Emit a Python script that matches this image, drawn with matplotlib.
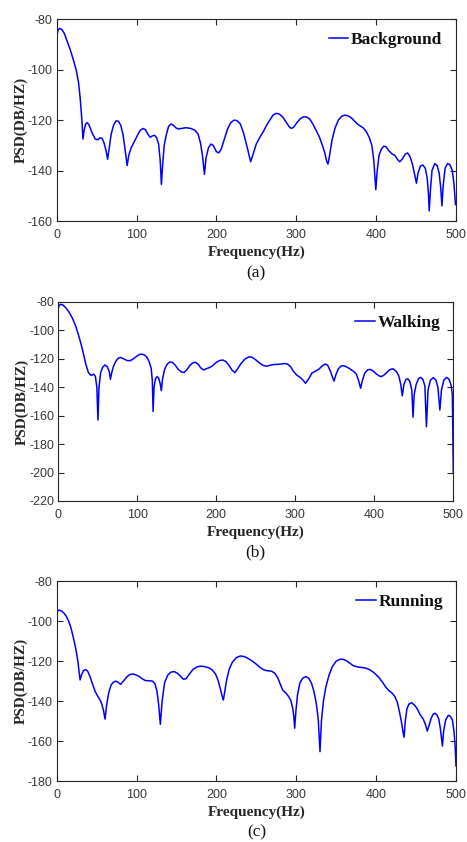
import matplotlib
matplotlib.use("Agg")
import matplotlib.pyplot as plt

plt.rcParams["axes.unicode_minus"] = False

# ---------------- data ----------------
bg_f = [0, 1, 3, 6, 9, 12.5, 16, 20, 24, 27, 29, 31, 32.6, 34, 36, 38, 40, 44, 48, 51, 54, 56.5, 59, 61.5,
        63.5, 65.5, 68, 71, 74, 77, 80, 83, 86, 88, 90, 93, 97, 101, 104.5, 108, 111, 114, 117, 120, 122.5,
        125, 127.5, 129.5, 131, 132.5, 134.5, 137, 140, 143, 146, 149, 152, 156, 162, 168, 173, 177, 180,
        182.5, 185, 187, 190, 193, 196, 200, 203, 206, 210, 214, 218, 222, 226, 230, 234, 238, 241, 243,
        246, 250, 255, 259, 263, 267, 271, 275, 279, 283, 287, 291, 294, 297, 301, 305, 309, 313, 317, 321,
        325, 329, 333, 336, 338.5, 340, 342, 345, 349, 353, 357, 361, 365, 369, 373, 378, 384, 388, 392,
        395, 397.5, 400, 401.5, 404, 407, 410, 413, 416, 420, 424, 427, 430, 433, 437, 440, 443, 446, 449,
        451, 453, 456, 459, 462, 464.5, 466, 467, 468.5, 470.5, 474, 477, 479.5, 481.5, 483, 484.5, 487,
        490, 493, 496, 498, 500]
bg_v = [-86.5, -84.5, -83.6, -84.0, -85.5, -88.5, -91.5, -95.5, -100, -105, -111, -119, -127.5, -124,
        -121.5, -121, -121.8, -125, -127.5, -127.8, -127, -127.2, -129, -132, -135.5, -131, -125.5, -122,
        -120.3, -120.4, -122, -126, -133, -138, -134, -131, -128.5, -126, -124, -123.3, -123.8, -125.5,
        -126.8, -126.2, -126, -127, -129.5, -136, -145.5, -138, -130, -126, -122.5, -121.5, -122, -123,
        -123.5, -123.3, -123, -123.3, -124, -125.5, -129, -134, -141.5, -135, -131, -129.5, -130, -132.5,
        -133, -131.5, -127.5, -123.5, -121, -120, -120.2, -121.5, -125, -130, -134, -136.5, -133.5, -129.5,
        -126.5, -124.5, -122, -120, -118, -117.3, -117.6, -118.7, -120.5, -122.5, -123.3, -122.8, -121,
        -119.5, -118.7, -118.7, -119.5, -121.5, -124, -126.5, -130, -133, -136.5, -137.4, -134, -128, -123,
        -120, -118.5, -118, -118.3, -119, -120.3, -121.8, -123, -124.5, -127, -130, -136, -147.6, -141,
        -134, -131.5, -130.3, -130.6, -132, -133.3, -134, -135.5, -136.5, -135.5, -133.5, -133, -134.5,
        -137.5, -142, -145, -141, -138.2, -137.8, -139, -143, -149, -156, -148, -140, -137.2, -138, -141,
        -147, -154, -146, -139, -137.2, -137.7, -140, -145, -153.5]

wk_f = [0, 1, 3, 6, 10, 14, 18, 22, 26, 29.5, 32, 35, 38, 41, 43, 45, 47, 48.8, 50.2, 51.5, 53.5, 56, 59,
        62, 64.5, 66, 67.5, 70, 73, 76, 79, 83, 87, 91, 95, 99, 103, 106, 109, 112, 115, 117.5, 119, 120,
        121.2, 123, 125, 127, 129, 130.4, 132, 134.5, 137.5, 141, 144.5, 148, 152, 156, 159.5, 163, 167,
        171, 174, 177, 180.5, 184, 188, 192, 196, 200, 204, 208, 212, 216, 220, 223.6, 227, 231, 236, 241,
        245, 250, 255, 260, 264, 268, 273, 280, 286, 290, 294, 298, 302, 306, 309, 313, 317, 321, 326, 330,
        334, 338, 341, 344, 346.5, 349, 351.5, 354.5, 358, 361, 365, 369, 373, 377, 380, 382.7, 385, 388,
        391.5, 394.5, 398, 402, 406, 409, 412, 416, 420, 424, 428, 431, 433.5, 435.4, 437.5, 440, 442.5,
        445, 447.5, 449, 450.5, 453, 456, 458.6, 461.5, 464, 466, 468, 471, 474.7, 478, 480.5, 483, 485,
        488, 491.6, 494.5, 497, 498.8, 500]
wk_v = [-84.5, -82.5, -81.6, -82.2, -84.3, -87.5, -91.5, -97, -104, -111, -117, -124, -129.5, -131.5,
        -131.3, -130.8, -132.5, -140, -163, -140, -130, -126, -124.3, -125.5, -129, -134.4, -130, -125,
        -121.5, -119.5, -119, -120, -121.2, -121.3, -120, -118.3, -116.8, -116.7, -117.3, -118.7, -122,
        -126.5, -135, -157, -140, -134, -132.5, -133.5, -137.5, -142.4, -134, -127.5, -124, -122.2, -122.5,
        -124.5, -127.5, -129.3, -129.5, -127.5, -124.3, -122.6, -122.5, -123.8, -126.5, -127.8, -126.8,
        -126, -124.5, -122.5, -121.2, -120.8, -121.8, -124.5, -128, -129.7, -127, -123.5, -120.3, -118.6,
        -118.8, -120.7, -123, -124.8, -125.1, -124.5, -124, -123.8, -123.3, -123.6, -125.5, -129, -131.5,
        -133, -134.5, -137.2, -134, -130, -128.5, -127.2, -125, -123.6, -124.5, -128, -132, -135.6, -131,
        -127, -125, -124.8, -125.7, -127, -128.5, -130.5, -135, -140.7, -135, -130, -127.8, -127.4, -128.3,
        -130.3, -132, -132.5, -131.5, -129.5, -127.5, -127, -129, -132, -138, -146, -138, -134.5, -134,
        -136, -142, -161, -145, -138, -134, -133, -134.5, -139, -167.7, -142, -135, -133.2, -135, -140,
        -156, -142, -135, -133, -134.3, -138, -145, -200.5]

rn_f = [0, 1, 3, 6, 9, 12, 15, 18, 21, 24, 26.5, 28, 29.3, 31, 33.5, 36, 38.5, 41.5, 45, 48, 51, 54, 56.5,
        58.5, 60.5, 62.5, 65, 68, 71, 74, 77, 80, 83.5, 87.5, 91, 95, 99, 103, 107, 111, 116, 120, 123,
        125.5, 127.5, 129.8, 132, 135, 139, 143, 147, 151, 155, 158.5, 162, 166, 171, 176, 181, 186, 191,
        195, 199, 202, 205, 207.5, 208.7, 210.5, 213, 216, 220, 225, 230, 235, 240, 245, 250, 255, 259,
        264, 269, 273, 277, 280, 283, 287, 290, 293, 295.5, 297, 298, 299.3, 301.5, 304.5, 308, 312, 315.5,
        319, 322, 325, 327.5, 329.7, 331.5, 334, 337, 341, 345, 350, 355, 359, 363, 367, 371.5, 377, 383,
        388, 393, 398, 403, 408, 412, 416, 420, 423.5, 426.5, 429, 431.5, 433.5, 435, 436.5, 438.5, 441,
        444.5, 448, 451, 455, 459, 462, 464, 466, 469, 471.5, 473.7, 476, 478.5, 480.5, 482, 483, 484.5,
        487, 490.4, 493, 495.5, 497.5, 499, 500]
rn_v = [-97, -95, -94.4, -94.9, -95.9, -97.5, -100, -103.5, -108.5, -114, -120, -125, -129.4, -127,
        -124.8, -124.2, -124.8, -127.5, -131.5, -135, -137.3, -139.2, -141.5, -144.5, -149, -142, -136,
        -132, -130.5, -130, -130.6, -131.6, -130, -128, -126.8, -126.4, -126.8, -127.6, -128.8, -129.7,
        -129.8, -130, -131.3, -135, -141, -151.6, -140, -131, -127, -125.5, -125.2, -126, -127.5, -129,
        -128.8, -126.5, -124, -122.8, -122.5, -122.8, -123.4, -124.5, -126.5, -129.5, -134, -138, -139.4,
        -135, -129, -124, -120.5, -118.2, -117.4, -117.7, -118.7, -120, -121.5, -123.2, -124.3, -124.8,
        -125, -126, -128.5, -131.5, -134.5, -136, -137.5, -139.5, -143.5, -148, -153.6, -146, -137, -131,
        -128.5, -127.7, -128.5, -131, -135, -141, -149, -165.3, -150, -140, -133, -127, -122.8, -120, -119,
        -119.1, -119.8, -121, -122.3, -122.9, -123.2, -123.6, -124.5, -126, -128, -130.5, -133, -134.7,
        -136, -137.8, -140.5, -145, -150, -155, -158.1, -150, -144, -141.5, -140.8, -142, -143.5, -146.7,
        -149, -152, -155, -152.5, -148.5, -146.5, -146.1, -146.8, -149, -154, -159, -162.5, -155, -149.5,
        -147.1, -147.6, -149.5, -155, -163, -172.5]

series = [
    (bg_f, bg_v, "Background", (-160, -80), [-160, -140, -120, -100, -80], "(a)"),
    (wk_f, wk_v, "Walking", (-220, -80), [-220, -200, -180, -160, -140, -120, -100, -80], "(b)"),
    (rn_f, rn_v, "Running", (-180, -80), [-180, -160, -140, -120, -100, -80], "(c)"),
]
xticks = [0, 100, 200, 300, 400, 500]

# ---------------- layout ----------------
W, H = 467, 842
fig = plt.figure(figsize=(W / 100, H / 100), dpi=100)

# axes boxes in pixels: left, top, right, bottom
boxes = [(57, 19.3, 455.5, 221), (58.3, 302, 453.3, 501), (56.7, 581.3, 456, 781)]
captions_y = [273, 552, 832]

serif = ["Liberation Serif", "DejaVu Serif"]
dark = "#262626"

for (f, v, name, ylim, yt, cap), (l, t, r, b), cy in zip(series, boxes, captions_y):
    ax = fig.add_axes([l / W, 1 - b / H, (r - l) / W, (b - t) / H])
    ax.plot(f, v, color="#0000ff", lw=1.1, label=name)
    ax.set_xlim(0, 500)
    ax.set_ylim(*ylim)
    ax.set_xticks(xticks)
    ax.set_yticks(yt)
    ax.tick_params(direction="in", top=True, right=True, length=4, width=0.8,
                   color=dark, labelsize=9, labelcolor="#383838")
    ax.tick_params(axis="x", pad=6)
    ax.tick_params(axis="y", pad=3)
    for lab in ax.get_xticklabels() + ax.get_yticklabels():
        lab.set_family(["Liberation Sans", "DejaVu Sans"])
    for s in ax.spines.values():
        s.set_color(dark)
        s.set_linewidth(0.8)
    ax.set_xlabel("Frequency(Hz)", fontsize=11, color="#262626", labelpad=3,
                  family=serif, weight="bold")
    ax.set_ylabel("PSD(DB/HZ)", fontsize=11, color="#262626", labelpad=0,
                  family=serif, weight="bold")
    leg = ax.legend(loc="upper right", frameon=False, handlelength=1.15, handletextpad=0.15,
                    borderaxespad=0.35, prop=dict(family=serif, weight="bold", size=12.5))
    for txt in leg.get_texts():
        txt.set_color("#111111")
    fig.text(0.5 * (l + r) / W, 1 - cy / H, cap, ha="center", va="center",
             fontsize=12.5, family=serif, color="#111111")

fig.savefig("out.png", dpi=100)
